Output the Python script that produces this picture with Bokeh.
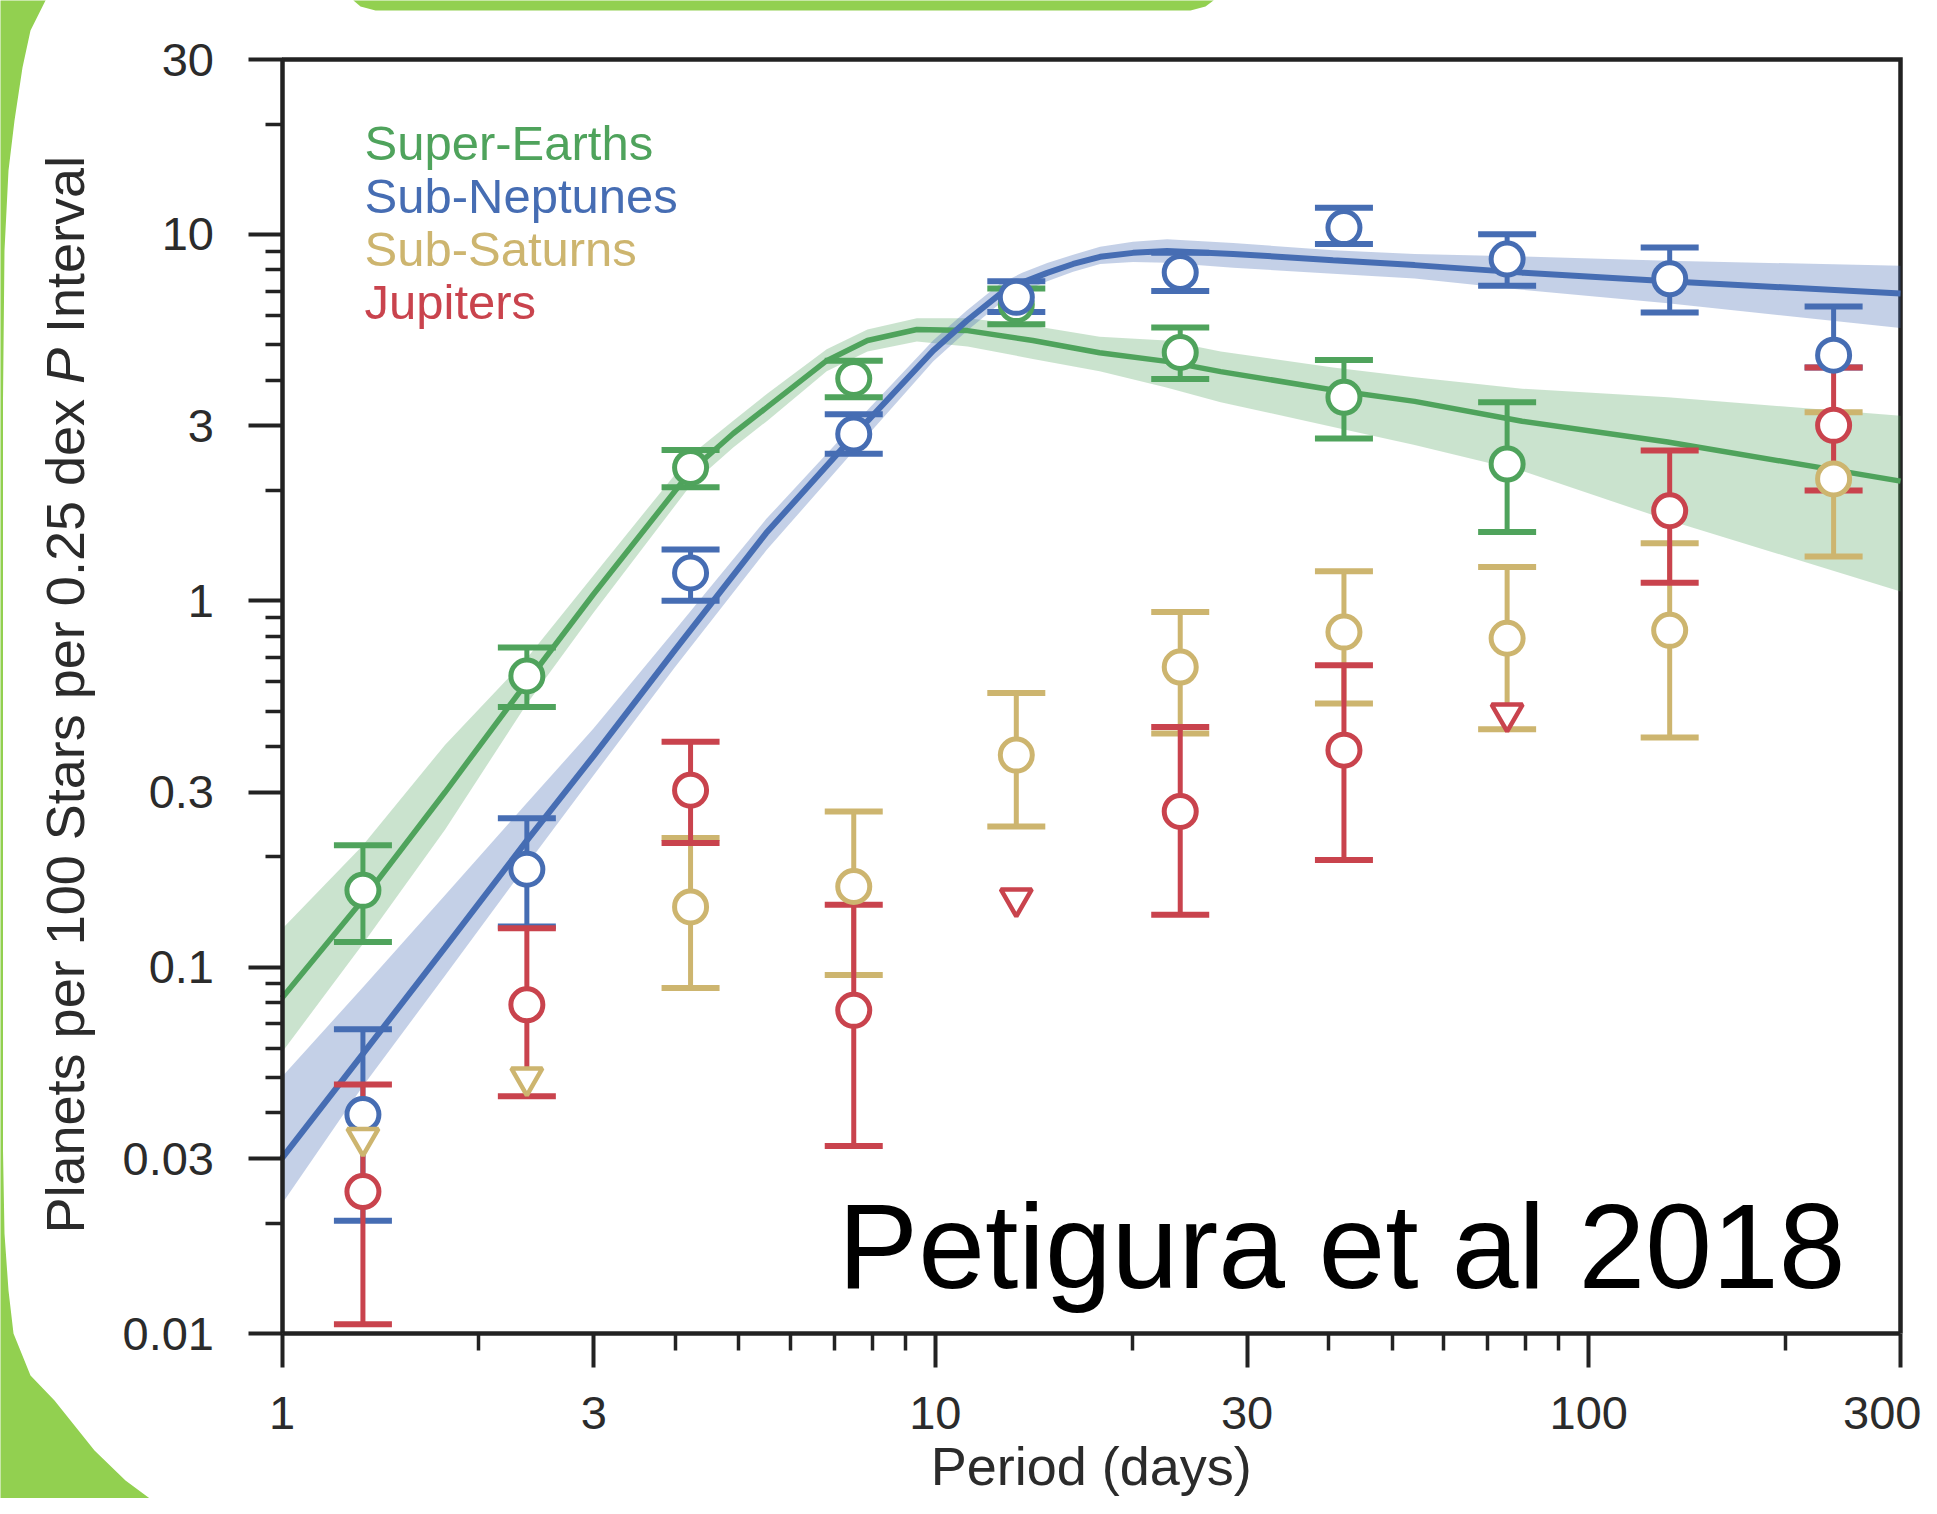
import math
from bokeh.plotting import figure
from bokeh.models import Range1d, FixedTicker, CustomJSTickFormatter, Label, PolyAnnotation
from bokeh.embed import file_html
from bokeh.resources import INLINE

NaN = float("nan")

# ---------------- values ----------------
# orbital-period bin centres (days), 0.25 dex bins
period_bins = [1.33, 2.37, 4.22, 7.50, 13.3, 23.7, 42.2, 75.0, 133.0, 237.0]

# Super-Earths (first 8 bins)
se_rate = [0.162, 0.623, 2.31, 4.04, 6.43, 4.76, 3.59, 2.36]
se_hi   = [0.215, 0.745, 2.58, 4.52, 7.11, 5.57, 4.54, 3.48]
se_lo   = [0.117, 0.513, 2.04, 3.59, 5.68, 4.03, 2.77, 1.54]

# Sub-Neptunes
sn_rate = [0.0396, 0.185, 1.19, 2.85, 6.73, 7.87, 10.43, 8.56, 7.56, 4.68]
sn_hi   = [0.0677, 0.255, 1.38, 3.23, 7.45, 8.90, 11.82, 10.0, 9.20, 6.35]
sn_lo   = [0.0203, 0.129, 1.00, 2.52, 6.14, 7.00, 9.41, 7.24, 6.12, 4.33]

# Sub-Saturns (first two bins are upper limits)
ss_rate  = [0.0342, 0.0500, 0.146, 0.166, 0.379, 0.659, 0.821, 0.790, 0.830, 2.15]
ss_hi    = [NaN, NaN, 0.225, 0.266, 0.560, 0.931, 1.203, 1.236, 1.436, 3.27]
ss_lo    = [NaN, NaN, 0.0877, 0.0952, 0.242, 0.434, 0.524, 0.446, 0.423, 1.32]
ss_limit = [True, True, False, False, False, False, False, False, False, False]

# Jupiters
jp_rate  = [0.0244, 0.0789, 0.304, 0.0762, 0.154, 0.266, 0.391, 0.492, 1.76, 3.01]
jp_hi    = [0.0478, 0.1276, 0.412, 0.148, NaN, 0.4525, 0.667, NaN, 2.57, 4.33]
jp_lo    = [0.0106, 0.0444, 0.218, 0.0325, NaN, 0.139, 0.196, NaN, 1.12, 2.00]
jp_limit = [False, False, False, False, True, False, False, True, False, False]

# fitted occurrence curves with their credible bands
se_fit_period = [1.0, 1.327, 1.776, 2.368, 2.995, 4.224, 4.905, 5.533, 6.818, 7.871, 9.368,
                 11.20, 14.10, 17.84, 22.57, 27.33, 40.61, 54.14, 79.06, 132.1, 300.0]
se_fit_rate = [0.0824, 0.152, 0.300, 0.598, 1.04, 2.26, 2.86, 3.38, 4.52, 5.13, 5.50,
               5.46, 5.13, 4.75, 4.50, 4.22, 3.76, 3.50, 3.09, 2.71, 2.12]
se_fit_hi = [0.127, 0.214, 0.404, 0.695, 1.17, 2.50, 3.10, 3.68, 4.86, 5.50, 5.90,
             5.90, 5.63, 5.25, 5.13, 4.79, 4.33, 4.07, 3.79, 3.59, 3.20]
se_fit_lo = [0.0586, 0.115, 0.237, 0.522, 0.925, 2.07, 2.62, 3.10, 4.23, 4.79, 5.10,
             4.94, 4.57, 4.23, 3.82, 3.48, 2.98, 2.66, 2.26, 1.66, 1.06]

sn_fit_period = [1.0, 1.327, 1.776, 2.368, 2.995, 3.993, 5.508, 7.405, 9.92, 11.17, 12.57,
                 13.58, 14.83, 16.25, 17.87, 20.07, 22.63, 28.56, 40.61, 54.14, 79.06,
                 132.1, 300.0]
sn_fit_rate = [0.0301, 0.0577, 0.113, 0.221, 0.376, 0.733, 1.53, 2.75, 4.81, 5.81, 6.88,
               7.38, 7.85, 8.30, 8.68, 8.90, 9.01, 8.84, 8.50, 8.24, 7.86, 7.45, 6.89]
sn_fit_hi = [0.0502, 0.0877, 0.157, 0.280, 0.447, 0.830, 1.67, 2.95, 5.13, 6.20, 7.34,
             7.85, 8.35, 8.80, 9.25, 9.55, 9.69, 9.47, 9.04, 8.83, 8.70, 8.47, 8.21]
sn_fit_lo = [0.0226, 0.0471, 0.0947, 0.190, 0.333, 0.658, 1.37, 2.50, 4.50, 5.45, 6.48,
             6.95, 7.45, 7.90, 8.30, 8.40, 8.37, 8.11, 7.80, 7.57, 7.06, 6.48, 5.55]

x_ticks = [1, 3, 10, 30, 100, 300]
x_minor = [2, 4, 5, 6, 7, 8, 9, 20, 40, 50, 60, 70, 80, 90, 200]
y_ticks = [0.01, 0.03, 0.1, 0.3, 1, 3, 10, 30]
y_minor = [0.02, 0.04, 0.05, 0.06, 0.07, 0.08, 0.09, 0.2, 0.4, 0.5, 0.6, 0.7, 0.8, 0.9,
           2, 4, 5, 6, 7, 8, 9, 20]

series_names = ["Super-Earths", "Sub-Neptunes", "Sub-Saturns", "Jupiters"]

X_LO, X_HI = 1, 300
Y_LO, Y_HI = 0.01, 30

# ---------------- layout (pixels of the 1921x1498 canvas) ----------------
W, H = 1921, 1498
FRAME_L, FRAME_R, FRAME_T, FRAME_B = 281.5, 1900.0, 59.0, 1333.0
DEC_X = (FRAME_R - FRAME_L) / math.log10(X_HI / X_LO)
DEC_Y = (FRAME_B - FRAME_T) / math.log10(Y_HI / Y_LO)


def px_x(px):
    return 10 ** (math.log10(X_LO) + (px - FRAME_L) / DEC_X)


def px_y(py):
    return 10 ** (math.log10(Y_LO) + (FRAME_B - py) / DEC_Y)


GREEN = "#4FA35C"
BLUE = "#466DB3"
TAN = "#CDB56F"
RED = "#C9434D"
DECOR = "#92D050"
FONT = "Liberation Sans"
TXT = "#2B2B2B"
AX = "#222222"
MID = 0.3465  # em offset between text middle and alphabetic baseline

p = figure(width=W, height=H, x_axis_type="log", y_axis_type="log",
           x_range=Range1d(px_x(0), px_x(W)), y_range=Range1d(px_y(H), px_y(0)),
           output_backend="svg", toolbar_location=None, min_border=0)
p.background_fill_color = "white"
p.border_fill_color = "white"
p.grid.visible = False
p.outline_line_color = None

fmt = CustomJSTickFormatter(code="return Number(tick.toPrecision(3)).toString();")
p.xaxis.ticker = FixedTicker(ticks=x_ticks, minor_ticks=x_minor)
p.yaxis.ticker = FixedTicker(ticks=y_ticks, minor_ticks=y_minor)
p.xaxis.fixed_location = Y_LO
p.yaxis.fixed_location = X_LO
p.xaxis.bounds = (X_LO, X_HI)
p.yaxis.bounds = (Y_LO, Y_HI)
for ax in (p.xaxis[0], p.yaxis[0]):
    ax.formatter = fmt
    ax.axis_line_width = 4.5
    ax.axis_line_color = AX
    ax.major_tick_line_width = 4
    ax.major_tick_line_color = AX
    ax.major_tick_out = 34
    ax.major_tick_in = 0
    ax.minor_tick_line_width = 3.5
    ax.minor_tick_line_color = AX
    ax.minor_tick_out = 17
    ax.minor_tick_in = 0
    ax.major_label_text_font = FONT
    ax.major_label_text_font_size = "47px"
    ax.major_label_text_color = TXT
p.xaxis.major_label_standoff = 29
p.yaxis.major_label_standoff = 34

# top and right sides of the plot box
p.line(x=[X_LO, X_HI, X_HI], y=[Y_HI, Y_HI, Y_LO], line_color=AX, line_width=4.5,
       line_join="miter")

# ---------------- fit bands and lines ----------------
p.varea(x=se_fit_period, y1=se_fit_lo, y2=se_fit_hi, fill_color=GREEN, fill_alpha=0.3)
p.varea(x=sn_fit_period, y1=sn_fit_lo, y2=sn_fit_hi, fill_color=BLUE, fill_alpha=0.32)
p.line(se_fit_period, se_fit_rate, line_color=GREEN, line_width=5.5)
p.line(sn_fit_period, sn_fit_rate, line_color=BLUE, line_width=6)


def error_bars(rate, hi, lo, color):
    per = period_bins[:len(rate)]
    keep = [i for i in range(len(rate)) if not math.isnan(hi[i])]
    xs = [per[i] for i in keep]
    his = [hi[i] for i in keep]
    los = [lo[i] for i in keep]
    p.segment(x0=xs, y0=los, x1=xs, y1=his, line_color=color, line_width=5)
    p.scatter(x=xs, y=his, marker="dash", size=58, line_color=color, line_width=6)
    p.scatter(x=xs, y=los, marker="dash", size=58, line_color=color, line_width=6)


def markers(rate, limit, color):
    per = period_bins[:len(rate)]
    circ = [i for i in range(len(rate)) if not limit[i]]
    tri = [i for i in range(len(rate)) if limit[i]]
    p.scatter(x=[per[i] for i in circ], y=[rate[i] for i in circ], marker="circle",
              size=32, fill_color="white", line_color=color, line_width=5)
    if tri:
        p.scatter(x=[per[i] for i in tri], y=[rate[i] for i in tri],
                  marker="inverted_triangle", size=31, fill_color="white",
                  line_color=color, line_width=4.5)


error_bars(se_rate, se_hi, se_lo, GREEN)
error_bars(sn_rate, sn_hi, sn_lo, BLUE)
error_bars(ss_rate, ss_hi, ss_lo, TAN)
error_bars(jp_rate, jp_hi, jp_lo, RED)

markers(se_rate, [False] * len(se_rate), GREEN)
markers(sn_rate, [False] * len(sn_rate), BLUE)
markers(jp_rate, jp_limit, RED)
markers(ss_rate, ss_limit, TAN)

# ---------------- text ----------------
LEG_FS = 49
for name, col, base in zip(series_names, [GREEN, BLUE, TAN, RED], [159, 212, 265, 318]):
    p.add_layout(Label(x=px_x(364), y=px_y(base - MID * LEG_FS), text=name,
                       text_color=col, text_font=FONT, text_font_size=f"{LEG_FS}px",
                       text_align="left", text_baseline="middle"))

BIG_FS = 120
p.add_layout(Label(x=px_x(1845), y=px_y(1286.7 - MID * BIG_FS), text="Petigura et al 2018",
                   text_color="black", text_font=FONT, text_font_size=f"{BIG_FS}px",
                   text_align="right", text_baseline="middle"))

LAB_FS = 54
# x-axis title
p.add_layout(Label(x=px_x((FRAME_L + FRAME_R) / 2), y=px_y(1484 - MID * LAB_FS),
                   text="Period (days)", text_color=TXT, text_font=FONT,
                   text_font_size=f"{LAB_FS}px", text_align="center",
                   text_baseline="middle"))

# y-axis title in three pieces so that P can be italic (Arial-metric widths in em)
y_start = 1233.0
pieces = [("Planets per 100 Stars per 0.25 dex", 0.0, "normal"),
          ("P", 15.453 + 0.278, "italic"),
          ("Interval", 15.453 + 0.278 + 0.667 + 0.278, "normal")]
for txt, off_em, style in pieces:
    p.add_layout(Label(x=px_x(83 - MID * LAB_FS), y=px_y(y_start - off_em * LAB_FS),
                       text=txt, angle=math.pi / 2, text_color=TXT, text_font=FONT,
                       text_font_size=f"{LAB_FS}px", text_font_style=style,
                       text_align="left", text_baseline="middle"))

# ---------------- slide decoration (green frame pieces, in canvas pixels) ----------------
left_edge = [(-10, -10), (48, -10), (45, 0), (30, 30), (22, 67), (14, 120), (8, 170),
             (4, 250), (2.5, 400), (2.5, 1150), (4, 1233), (8, 1290), (13, 1333),
             (30, 1375), (54, 1400), (94, 1450), (125, 1480), (152, 1500), (170, 1515),
             (-10, 1515)]
top_bar = [(353, -10), (1213, -10), (1213, 0), (1205, 6), (1190, 10), (375, 10),
           (360, 6), (353, 0)]
for shape in (left_edge, top_bar):
    p.add_layout(PolyAnnotation(xs=[px_x(a) for a, b in shape],
                                ys=[px_y(b) for a, b in shape],
                                fill_color=DECOR, fill_alpha=1, line_color=None))

open("out.html", "w").write(file_html(p, INLINE))
